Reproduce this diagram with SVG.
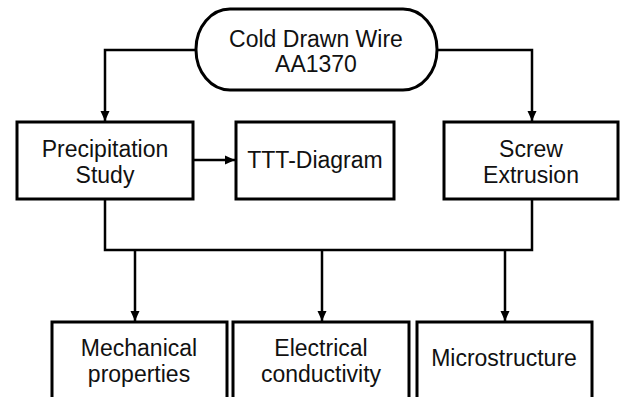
<svg xmlns="http://www.w3.org/2000/svg" width="620" height="397" viewBox="0 0 620 397">
<defs>
<marker id="ah" markerWidth="10" markerHeight="10" viewBox="0 0 10 10" refX="10" refY="5" orient="auto" markerUnits="userSpaceOnUse">
<path d="M0,0.5 L10,5 L0,9.5 Z" fill="#000"/>
</marker>
<style>
.box{fill:#fff;stroke:#000;stroke-width:3}
.ln{fill:none;stroke:#000;stroke-width:2.5}
.ar{fill:none;stroke:#000;stroke-width:2.5;marker-end:url(#ah)}
text{font-family:"Liberation Sans",Arial,sans-serif;font-size:23px;fill:#111;text-anchor:middle}
</style>
</defs>
<rect width="620" height="397" fill="#fff"/>
<g id="connectors">
<path class="ar" d="M196,50 H105 V121"/>
<path class="ar" d="M437,50 H532 V121"/>
<path class="ar" d="M193,160 H235"/>
<path class="ln" d="M105,199 V250 H532 V199"/>
<path class="ar" d="M135,250 V321"/>
<path class="ar" d="M322,250 V321"/>
<path class="ar" d="M505,250 V321"/>
</g>
<g id="cold-drawn-wire">
<rect class="box" x="196" y="9" width="241" height="81" rx="34" ry="40"/>
<text x="316" y="47">Cold Drawn Wire</text>
<text x="316" y="72">AA1370</text>
</g>
<g id="precipitation-study">
<rect class="box" x="17" y="122" width="176" height="77"/>
<text x="105" y="157">Precipitation</text>
<text x="105" y="183">Study</text>
</g>
<g id="ttt-diagram">
<rect class="box" x="236" y="122" width="158" height="77"/>
<text x="315" y="168">TTT-Diagram</text>
</g>
<g id="screw-extrusion">
<rect class="box" x="444" y="122" width="174" height="77"/>
<text x="531" y="157">Screw</text>
<text x="531" y="183">Extrusion</text>
</g>
<g id="mechanical-properties">
<rect class="box" x="52" y="322" width="175" height="90"/>
<text x="139" y="356">Mechanical</text>
<text x="139" y="382">properties</text>
</g>
<g id="electrical-conductivity">
<rect class="box" x="233" y="322" width="176" height="90"/>
<text x="321" y="356">Electrical</text>
<text x="321" y="382">conductivity</text>
</g>
<g id="microstructure">
<rect class="box" x="417" y="322" width="175" height="90"/>
<text x="504" y="366">Microstructure</text>
</g>
</svg>
